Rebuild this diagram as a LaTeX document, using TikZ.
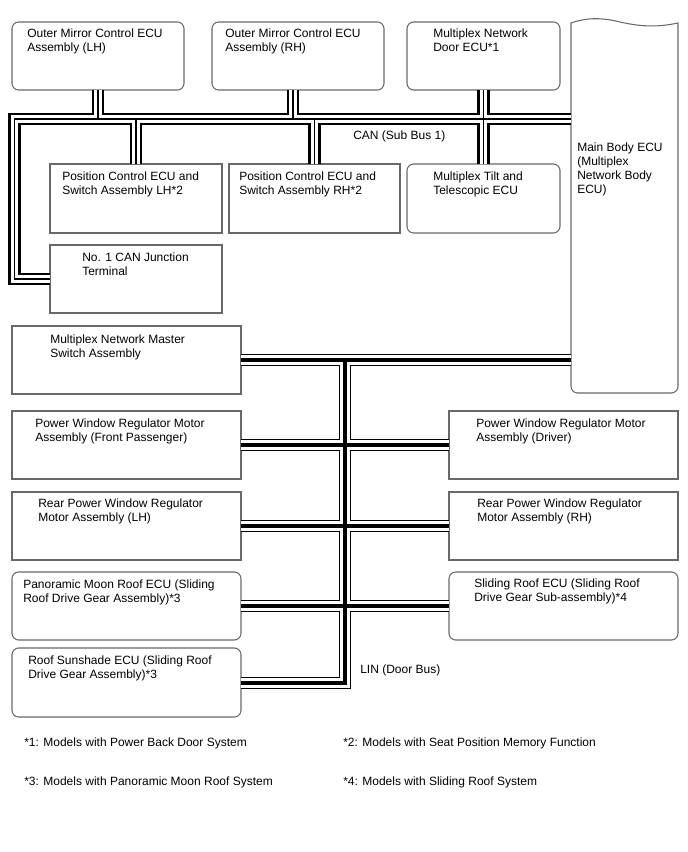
\documentclass[tikz,border=0pt]{standalone}
\usepackage{fontspec}
\setmainfont{Liberation Sans}
\usetikzlibrary{positioning, calc}
\definecolor{boxgray}{RGB}{105,105,105}

\begin{document}
\begin{tikzpicture}[x=0.75pt, y=-0.75pt,
    sq/.style={draw=boxgray, line width=0.8pt, outer sep=0pt, inner sep=0pt, anchor=north west},
    rnd/.style={sq, rounded corners=5pt},
    sz/.style 2 args={minimum width=#1*0.75pt, minimum height=#2*0.75pt},
    txt/.style={anchor=north west, inner sep=0pt, align=left, font=\fontsize{9}{10.5}\selectfont},
    note/.style={anchor=west, inner sep=0pt, font=\fontsize{9}{10.5}\selectfont}
]
\useasboundingbox (0,0) rectangle (688,852);

%% upper row
\node[rnd, sz={172}{68}] (mirrorLH) at (12,22) {};
\node[rnd, sz={172}{68}] (mirrorRH) at (212,22) {};
\node[rnd, sz={153}{68}] (doorECU) at (407,22) {};
\node[txt] (mirrorLH-t) at (27,28.5) {Outer Mirror Control ECU\\Assembly (LH)};
\node[txt] (mirrorRH-t) at (225,28.5) {Outer Mirror Control ECU\\Assembly (RH)};
\node[txt] (doorECU-t) at (433,28.5) {Multiplex Network\\Door ECU*1};

%% main body ecu (wavy top)
\node[sq, draw=none, sz={107}{370}] (mainBody) at (571,23) {};
\draw[draw=boxgray, line width=0.8pt] (mainBody.north west)
  .. controls (585,18) and (600,17) .. (620,22)
  .. controls (638,26) and (655,28) .. (mainBody.north east)
  [rounded corners=5pt] -- (mainBody.south east) -- (mainBody.south west)
  [sharp corners] -- cycle;
\node[txt] (mainBody-t) at (577,142.5) {Main Body ECU\\(Multiplex\\Network Body\\ECU)};

%% second row
\node[sq, sz={172}{69}] (posLH) at (50,164) {};
\node[sq, sz={171}{69}] (posRH) at (229,164) {};
\node[rnd, sz={153}{69}] (tilt) at (407,164) {};
\node[txt] (posLH-t) at (62,171.5) {Position Control ECU and\\Switch Assembly LH*2};
\node[txt] (posRH-t) at (239,171.5) {Position Control ECU and\\Switch Assembly RH*2};
\node[txt] (tilt-t) at (433,171.5) {Multiplex Tilt and\\Telescopic ECU};
\node[sq, sz={172}{68}] (junction) at (50,245) {};
\node[txt] (junction-t) at (82,252.5) {No. 1 CAN Junction\\Terminal};
\node[txt] (can-t) at (353,131) {CAN (Sub Bus 1)};

%% LIN side
\node[sq, sz={229}{68}] (master) at (12,326) {};
\node[sq, sz={229}{68}] (pwFront) at (12,411) {};
\node[sq, sz={229}{68}] (rearLH) at (12,492) {};
\node[rnd, sz={229}{68}] (panoRoof) at (12,572) {};
\node[rnd, sz={229}{69}] (sunshade) at (12,648) {};
\node[sq, sz={229}{68}] (pwDriver) at (449,411) {};
\node[sq, sz={229}{68}] (rearRH) at (449,492) {};
\node[rnd, sz={229}{68}] (slideRoof) at (449,572) {};
\node[txt] (master-t) at (50,334.5) {Multiplex Network Master\\Switch Assembly};
\node[txt] (pwFront-t) at (35,418.5) {Power Window Regulator Motor\\Assembly (Front Passenger)};
\node[txt] (rearLH-t) at (38,498.5) {Rear Power Window Regulator\\Motor Assembly (LH)};
\node[txt] (panoRoof-t) at (23,579.5) {Panoramic Moon Roof ECU (Sliding\\Roof Drive Gear Assembly)*3};
\node[txt] (sunshade-t) at (28,655.5) {Roof Sunshade ECU (Sliding Roof\\Drive Gear Assembly)*3};
\node[txt] (pwDriver-t) at (476,418.5) {Power Window Regulator Motor\\Assembly (Driver)};
\node[txt] (rearRH-t) at (477,498.5) {Rear Power Window Regulator\\Motor Assembly (RH)};
\node[txt] (slideRoof-t) at (474,578.5) {Sliding Roof ECU (Sliding Roof\\Drive Gear Sub-assembly)*4};
\node[txt] (lin-t) at (360,665) {LIN (Door Bus)};

%% CAN bus: thick pair with thin core
\coordinate (canNW) at (14.5,119);
\foreach \w/\c in {9.6pt/black, 5.4pt/white, 0.9pt/black}{
  \draw[line width=\w, draw=\c]
    (junction.west) -- (junction.west -| canNW) -- (canNW) -- (canNW -| mainBody.west)
    (mirrorLH.south) -- (mirrorLH.south |- canNW)
    ([xshift=-3.75pt]mirrorRH.south) -- ([xshift=-3.75pt]mirrorRH.south |- canNW)
    (posLH.north) -- (posLH.north |- canNW)
    (posRH.north) -- (posRH.north |- canNW)
    (doorECU.south) -- (tilt.north);
}

%% LIN bus: thin pair with thick core
\coordinate (linN) at (345,360);
\coordinate (linS) at (linN |- sunshade.east);
\foreach \w/\c in {9pt/black, 7.5pt/white, 3pt/black}{
  \draw[line width=\w, draw=\c]
    (master.east) -- (master.east -| mainBody.west)
    (linN) -- (linS) -- (sunshade.east)
    (pwFront.east) -- (pwDriver.west)
    (rearLH.east) -- (rearRH.west)
    (panoRoof.east) -- (slideRoof.west);
}

%% footnotes
\node[note] (n1) at (24,743) {*1: Models with Power Back Door System};
\node[note] (n2) at (343,743) {*2: Models with Seat Position Memory Function};
\node[note] (n3) at (24,782) {*3: Models with Panoramic Moon Roof System};
\node[note] (n4) at (343,782) {*4: Models with Sliding Roof System};
\end{tikzpicture}
\end{document}
